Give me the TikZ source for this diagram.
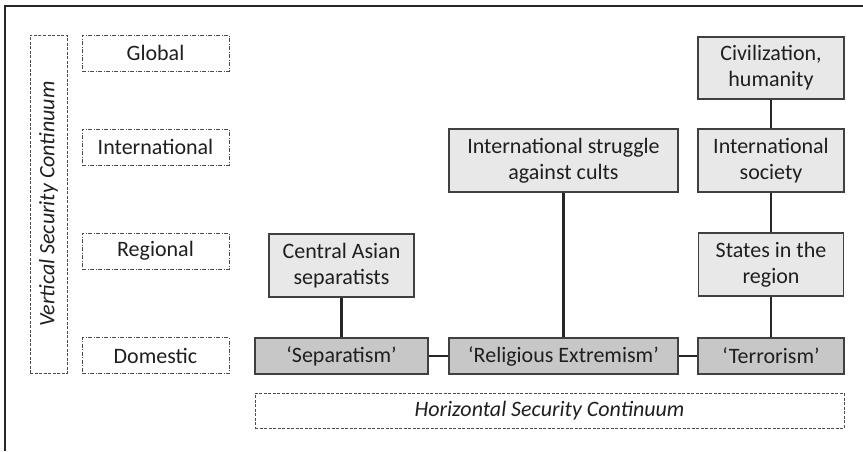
\documentclass[tikz,border=0pt]{standalone}
\usepackage{fontspec}
\setmainfont{Carlito}
\begin{document}
\begin{tikzpicture}[x=1pt,y=-1pt,
  txt/.style={text=black!88, font=\fontsize{22}{26}\selectfont, align=center, inner sep=0pt},
  upbox/.style={txt, draw=black!75, line width=1.3pt, fill=black!9},
  lowbox/.style={txt, draw=black!75, line width=1.3pt, fill=black!22},
  lvlbox/.style={txt, draw=black!70, line width=0.9pt, dash pattern=on 4pt off 1.5pt on 1pt off 1.5pt, minimum width=147pt, minimum height=36pt},
  dbox/.style={txt, draw=black!70, line width=0.9pt, dash pattern=on 3pt off 1.5pt},
  conn/.style={draw=black!85, line width=2.6pt}]
\useasboundingbox (0,0) rectangle (863,451);
\draw[black!85, line width=1.2pt] (5,451) -- (5,6) -- (863,6);
% vertical continuum
\node[dbox, minimum width=37pt, minimum height=338pt] (vert) at (48.5,204) {};
\node[txt, rotate=90, font=\fontsize{22}{26}\selectfont\itshape] (vlab) at (vert.center) {Vertical Security Continuum};
% level boxes
\node[lvlbox] (global) at (155.5,53) {Global};
\node[lvlbox] (intl) at (155.5,147) {International};
\node[lvlbox] (reg) at (155.5,251) {Regional};
\node[lvlbox] (dom) at (155.5,355.5) {Domestic};
% horizontal continuum
\node[dbox, minimum width=589pt, minimum height=35pt, font=\fontsize{22}{26}\selectfont\itshape] (horiz) at (549.5,410.5) {Horizontal Security Continuum};
% bottom row
\node[lowbox, minimum width=173pt, minimum height=36pt] (sep) at (341.5,356) {‘Separatism’};
\node[lowbox, minimum width=229pt, minimum height=36pt] (rel) at (563.5,356) {‘Religious Extremism’};
\node[lowbox, minimum width=146pt, minimum height=36pt] (ter) at (771,356) {‘Terrorism’};
% upper boxes
\node[upbox, minimum width=145pt, minimum height=63pt] (cas) at (341.5,265.5) {Central Asian\\separatists};
\node[upbox, minimum width=229pt, minimum height=63pt] (cults) at (563.5,160.5) {International struggle\\against cults};
\node[upbox, minimum width=145pt, minimum height=63pt] (states) at (771,264.5) {States in the\\region};
\node[upbox, minimum width=146pt, minimum height=63pt] (isoc) at (771,160.5) {International\\society};
\node[upbox, minimum width=146pt, minimum height=62pt] (civ) at (771,68) {Civilization,\\humanity};
% connectors
\draw[conn] (cas.south) -- (sep.north);
\draw[conn] (cults.south) -- (rel.north);
\draw[conn] (civ.south) -- (isoc.north);
\draw[conn] (isoc.south) -- (states.north);
\draw[conn] (states.south) -- (ter.north);
\draw[conn] (sep.east) -- (rel.west);
\draw[conn] (rel.east) -- (ter.west);
\end{tikzpicture}
\end{document}
